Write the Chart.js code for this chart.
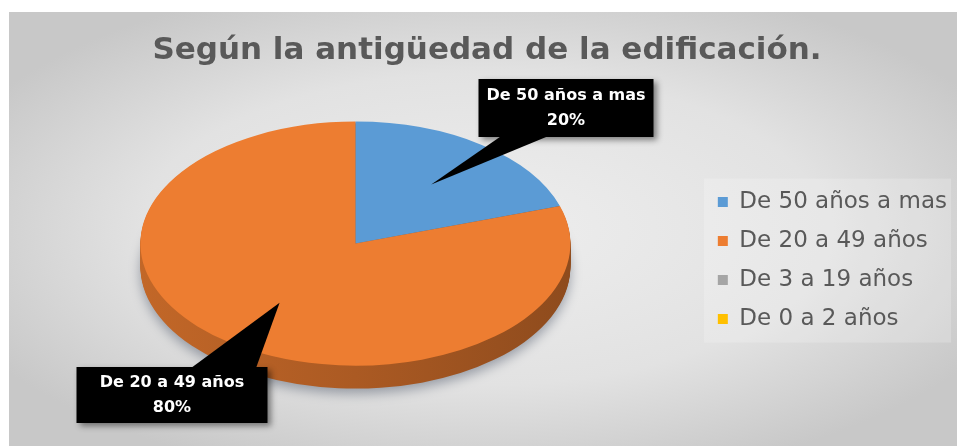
<!DOCTYPE html>
<html>
<head>
<meta charset="utf-8">
<script src="https://cdn.jsdelivr.net/npm/chart.js@4.4.1/dist/chart.umd.min.js"></script>
<style>
  html, body { margin: 0; padding: 0; background: #fff; }
</style>
</head>
<body>
<canvas id="pieChart" width="957" height="446"></canvas>
<script>
// data
var categories = ['De 50 años a mas', 'De 20 a 49 años', 'De 3 a 19 años', 'De 0 a 2 años'];
var percentages = [20, 80, 0, 0];
var sliceColors = ['#5B9BD5', '#ED7D31', '#A5A5A5', '#FFC000'];
var chartTitle = 'Según la antigüedad de la edificación.';

// look of the tilted pie
var RX = 215, RY = 122, DEPTH = 23, LIFT = -17, SHIFT_X = -4;
var ANCHOR_FRACTION = 0.6;
var FONT = '"DejaVu Sans", sans-serif';

// callout boxes: centre, size and where the pointer leaves the box (fractions of width)
var callouts = [
  { cx: 566, cy: 108, w: 175, h: 58, base: [0.13, 0.4] },
  { cx: 172, cy: 395, w: 191, h: 56, base: [0.6, 0.94] },
  null,
  null
];

function shade(hex, f) {
  var n = parseInt(hex.slice(1), 16);
  var r = Math.round(((n >> 16) & 255) * f);
  var g = Math.round(((n >> 8) & 255) * f);
  var b = Math.round((n & 255) * f);
  return 'rgb(' + r + ',' + g + ',' + b + ')';
}

// squash the round pie into an ellipse around its own centre
function project(ctx, arc) {
  var sx = RX / arc.outerRadius, sy = RY / arc.outerRadius;
  ctx.translate(arc.x + SHIFT_X, arc.y + LIFT);
  ctx.scale(sx, sy);
  ctx.translate(-arc.x, -arc.y);
}

function projectPoint(arc, px, py) {
  return {
    x: arc.x + SHIFT_X + (px - arc.x) * RX / arc.outerRadius,
    y: arc.y + LIFT + (py - arc.y) * RY / arc.outerRadius
  };
}

var backgroundPlugin = {
  id: 'frameBackground',
  beforeDraw: function (chart) {
    var ctx = chart.ctx;
    var x0 = 9, y0 = 12, w = chart.width - x0, h = chart.height - y0;
    ctx.save();
    ctx.translate(x0 + w / 2, y0 + h / 2);
    ctx.scale(w / 2, h / 2);
    var g = ctx.createRadialGradient(0, 0, 0, 0, 0, 1.2);
    g.addColorStop(0, '#eeeeee');
    g.addColorStop(0.6, '#e2e2e2');
    g.addColorStop(1, '#c8c8c8');
    ctx.fillStyle = g;
    ctx.fillRect(-1, -1, 2, 2);
    ctx.restore();

    // faint panel behind the legend
    var lg = chart.legend;
    if (lg && lg.legendHitBoxes && lg.legendHitBoxes.length) {
      var hb = lg.legendHitBoxes;
      var first = hb[0], last = hb[hb.length - 1];
      ctx.save();
      ctx.fillStyle = 'rgba(255,255,255,0.2)';
      ctx.fillRect(first.left - 14, first.top - 12, chart.width - 6 - (first.left - 14),
        last.top + last.height + 12 - (first.top - 12));
      ctx.restore();
    }
  }
};

var pie3dPlugin = {
  id: 'pie3d',
  beforeDatasetsDraw: function (chart) {
    var ctx = chart.ctx;
    var meta = chart.getDatasetMeta(0);
    // side wall: stacked copies of each slice, pushed down one pixel at a time
    for (var d = DEPTH; d >= 1; d--) {
      meta.data.forEach(function (arc, i) {
        if (!(arc.endAngle - arc.startAngle > 0)) return;
        ctx.save();
        ctx.translate(0, d);
        project(ctx, arc);
        if (d === DEPTH) {
          ctx.shadowColor = 'rgba(60,70,90,0.45)';
          ctx.shadowBlur = 12;
          ctx.shadowOffsetY = 5;
        }
        var g = ctx.createLinearGradient(arc.x - arc.outerRadius, 0, arc.x + arc.outerRadius, 0);
        g.addColorStop(0, shade(sliceColors[i], 0.82));
        g.addColorStop(0.5, shade(sliceColors[i], 0.72));
        g.addColorStop(1, shade(sliceColors[i], 0.6));
        ctx.fillStyle = g;
        ctx.beginPath();
        ctx.moveTo(arc.x, arc.y);
        ctx.arc(arc.x, arc.y, arc.outerRadius, arc.startAngle, arc.endAngle);
        ctx.closePath();
        ctx.fill();
        ctx.restore();
      });
    }
    // top face is drawn by chart.js under the same projection
    ctx.save();
    project(ctx, meta.data[0]);
  },
  afterDatasetsDraw: function (chart) {
    chart.ctx.restore();
  }
};

var calloutPlugin = {
  id: 'callouts',
  afterDraw: function (chart) {
    var ctx = chart.ctx;
    var meta = chart.getDatasetMeta(0);
    var total = percentages.reduce(function (a, b) { return a + b; }, 0);
    meta.data.forEach(function (arc, i) {
      var box = callouts[i];
      if (!box || !(percentages[i] > 0)) return;
      var mid = (arc.startAngle + arc.endAngle) / 2;
      var r = arc.outerRadius * ANCHOR_FRACTION;
      var p = projectPoint(arc, arc.x + r * Math.cos(mid), arc.y + r * Math.sin(mid));
      var left = box.cx - box.w / 2, top = box.cy - box.h / 2;

      // box with soft shadow
      ctx.save();
      ctx.shadowColor = 'rgba(0,0,0,0.45)';
      ctx.shadowBlur = 6;
      ctx.shadowOffsetX = 3;
      ctx.shadowOffsetY = 3;
      ctx.fillStyle = '#000';
      ctx.fillRect(left, top, box.w, box.h);
      ctx.restore();

      // pointer towards the slice
      var edgeY = p.y > box.cy ? top + box.h - 1 : top + 1;
      ctx.save();
      ctx.fillStyle = '#000';
      ctx.beginPath();
      ctx.moveTo(p.x, p.y);
      ctx.lineTo(left + box.w * box.base[0], edgeY);
      ctx.lineTo(left + box.w * box.base[1], edgeY);
      ctx.closePath();
      ctx.fill();
      ctx.restore();

      // label text
      var pct = Math.round(percentages[i] / total * 100) + '%';
      ctx.save();
      ctx.fillStyle = '#fff';
      ctx.font = 'bold 16px ' + FONT;
      ctx.textAlign = 'center';
      ctx.textBaseline = 'middle';
      ctx.fillText(categories[i], box.cx, box.cy - 12);
      ctx.fillText(pct, box.cx, box.cy + 13);
      ctx.restore();
    });
  }
};

var ctx = document.getElementById('pieChart').getContext('2d');
var chart = new Chart(ctx, {
  type: 'pie',
  data: {
    labels: categories,
    datasets: [{
      data: percentages,
      backgroundColor: sliceColors,
      borderWidth: 0
    }]
  },
  options: {
    responsive: false,
    devicePixelRatio: 1,
    animation: false,
    events: [],
    layout: {
      padding: { top: 12, left: 17, right: 0, bottom: 14 }
    },
    plugins: {
      title: {
        display: true,
        text: chartTitle,
        color: '#595959',
        font: { family: FONT, size: 31, weight: 'bold' },
        padding: { top: 20, bottom: 20 }
      },
      legend: {
        position: 'right',
        fullSize: false,
        labels: {
          boxWidth: 10,
          boxHeight: 10,
          padding: 16,
          color: '#595959',
          font: { family: FONT, size: 23 }
        }
      },
      tooltip: { enabled: false }
    }
  },
  plugins: [backgroundPlugin, pie3dPlugin, calloutPlugin]
});
</script>
</body>
</html>
